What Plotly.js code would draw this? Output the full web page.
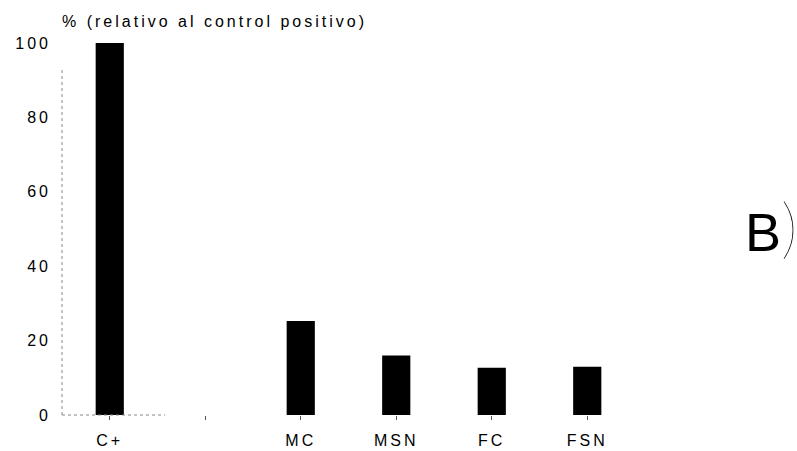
<!DOCTYPE html>
<html>
<head>
<meta charset="utf-8">
<script src="https://cdn.plot.ly/plotly-3.0.1.min.js"></script>
<style>
  html, body { margin: 0; padding: 0; background: #fff; }
  #chart { width: 797px; height: 451px; }
  .main-svg .xtick text, .main-svg .ytick text, .main-svg .gtitle { letter-spacing: 3px; }
</style>
</head>
<body>
<div id="chart"></div>
<script>
// Categories (one empty slot between C+ and MC, as in the original)
const categories = ["C+", " ", "MC", "MSN", "FC", "FSN"];
// Values: % relative to positive control
const values = [100, null, 25.3, 16.0, 12.7, 13.0];
// Y tick values
const yTicks = [0, 20, 40, 60, 80, 100];
const titleText = "% (relativo al control positivo)";
const panelLabel = "B";

const font = "Liberation Sans, Arial, Helvetica, sans-serif";
const ink = "#000";

const trace = {
  type: "bar",
  x: categories,
  y: values,
  marker: { color: "#000", line: { width: 0 } },
  hoverinfo: "skip"
};

const layout = {
  width: 797,
  height: 451,
  margin: { l: 62, r: 162, t: 43, b: 36 },
  paper_bgcolor: "#fff",
  plot_bgcolor: "#fff",
  showlegend: false,
  bargap: 0.705,
  font: { family: font, color: ink, size: 16 },
  title: {
    text: titleText,
    font: { family: font, size: 16, color: ink },
    xref: "container", x: 62 / 797, xanchor: "left",
    yref: "container", y: 1 - 21 / 451, yanchor: "middle"
  },
  xaxis: {
    type: "category",
    categoryorder: "array",
    categoryarray: categories,
    range: [-0.5, categories.length - 0.5],
    showgrid: false, zeroline: false, showline: false,
    ticks: "outside", ticklen: 4, tickwidth: 1, tickcolor: "#555",
    ticklabelstandoff: 7,
    tickfont: { family: font, size: 16, color: ink },
    fixedrange: true
  },
  yaxis: {
    range: [0, 100],
    tickmode: "array",
    tickvals: yTicks,
    ticktext: yTicks.map(String),
    showgrid: false, zeroline: false, showline: false,
    ticks: "",
    ticklabelstandoff: 10,
    tickfont: { family: font, size: 16, color: ink },
    fixedrange: true
  },
  shapes: [
    // dotted y axis
    { type: "line", xref: "paper", yref: "paper", x0: 0, x1: 0, y0: 0, y1: 0.93,
      line: { color: "#888", width: 1, dash: "dot" } },
    // dotted x axis stub
    { type: "line", xref: "paper", yref: "paper", x0: 0, x1: 0.18, y0: 0, y1: 0,
      line: { color: "#888", width: 1, dash: "dot" } }
  ],
  annotations: [
    { text: panelLabel + "<span style='font-family:Lato, sans-serif;font-weight:100;font-size:66px'>)</span>",
      xref: "paper", yref: "paper",
      x: 1 + (744 - 635) / 573, y: (415 - 225) / 372, xanchor: "left", yanchor: "middle",
      showarrow: false, borderpad: 0,
      font: { family: font, size: 54, color: "#000" } }
  ]
};

Plotly.newPlot("chart", [trace], layout, { staticPlot: true, displayModeBar: false });
</script>
</body>
</html>
